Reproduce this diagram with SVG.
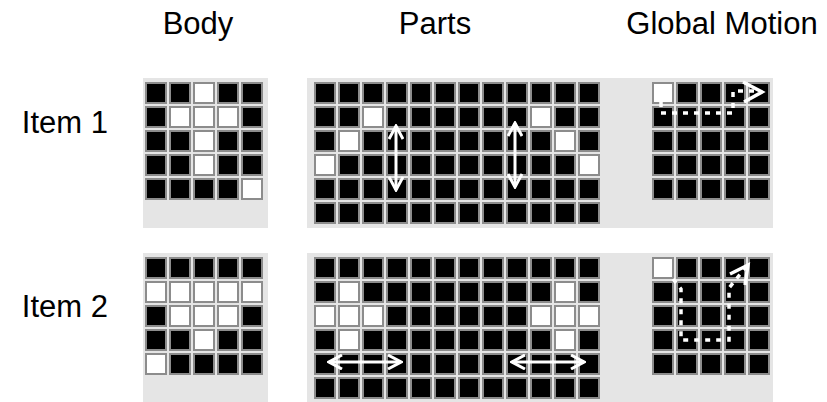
<svg xmlns="http://www.w3.org/2000/svg" width="827" height="402" viewBox="0 0 827 402">
<style>
.lbl{font-family:"Liberation Sans",Arial,sans-serif;font-size:31px;fill:#000}
.panel{fill:#e5e5e5}
.w{fill:#fff;stroke:#8c8c8c;stroke-width:2}
.arr{fill:none;stroke:#fff;stroke-width:3}
.dot{fill:none;stroke:#fff;stroke-width:3.5;stroke-dasharray:5 6}
.head{fill:none;stroke:#fff;stroke-width:3.5;stroke-linejoin:miter}
</style>
<defs>
<pattern id="cells" width="24" height="24" patternUnits="userSpaceOnUse">
<rect x="1" y="1" width="20" height="20" fill="#000" stroke="#8c8c8c" stroke-width="2"/>
</pattern>
<marker id="chev" viewBox="-1 -1 16 16" refX="13" refY="7" markerWidth="16" markerHeight="16" markerUnits="userSpaceOnUse" orient="auto-start-reverse">
<path d="M0,0 L13,7 L0,14" fill="none" stroke="#fff" stroke-width="3"/>
</marker>
</defs>
<rect width="827" height="402" fill="#fff"/>
<g id="headers">
<text class="lbl" x="198" y="34" text-anchor="middle">Body</text>
<text class="lbl" x="435" y="34" text-anchor="middle">Parts</text>
<text class="lbl" x="722" y="34" text-anchor="middle">Global Motion</text>
<text class="lbl" x="108" y="133" text-anchor="end">Item 1</text>
<text class="lbl" x="108" y="317" text-anchor="end">Item 2</text>
</g>
<g id="panels">
<rect class="panel" x="143" y="78" width="125" height="150"/>
<rect class="panel" x="307" y="78" width="300" height="150"/>
<rect class="panel" x="607" y="78" width="166" height="150"/>
<rect class="panel" x="143" y="253" width="125" height="149"/>
<rect class="panel" x="307" y="253" width="300" height="149"/>
<rect class="panel" x="607" y="253" width="166" height="149"/>
</g>
<g id="body1" transform="translate(145,82)">
<rect width="120" height="120" fill="url(#cells)"/>
<rect class="w" x="49" y="1" width="20" height="20"/>
<rect class="w" x="25" y="25" width="20" height="20"/>
<rect class="w" x="49" y="25" width="20" height="20"/>
<rect class="w" x="73" y="25" width="20" height="20"/>
<rect class="w" x="49" y="49" width="20" height="20"/>
<rect class="w" x="49" y="73" width="20" height="20"/>
<rect class="w" x="97" y="97" width="20" height="20"/>
</g>
<g id="parts1" transform="translate(314,82)">
<rect width="288" height="144" fill="url(#cells)"/>
<rect class="w" x="49" y="25" width="20" height="20"/>
<rect class="w" x="217" y="25" width="20" height="20"/>
<rect class="w" x="25" y="49" width="20" height="20"/>
<rect class="w" x="241" y="49" width="20" height="20"/>
<rect class="w" x="1" y="73" width="20" height="20"/>
<rect class="w" x="265" y="73" width="20" height="20"/>
</g>
<g id="global1" transform="translate(652,82)">
<rect width="120" height="120" fill="url(#cells)"/>
<rect class="w" x="1" y="1" width="20" height="20"/>
</g>
<g id="body2" transform="translate(145,257)">
<rect width="120" height="120" fill="url(#cells)"/>
<rect class="w" x="1" y="25" width="20" height="20"/>
<rect class="w" x="25" y="25" width="20" height="20"/>
<rect class="w" x="49" y="25" width="20" height="20"/>
<rect class="w" x="73" y="25" width="20" height="20"/>
<rect class="w" x="97" y="25" width="20" height="20"/>
<rect class="w" x="25" y="49" width="20" height="20"/>
<rect class="w" x="49" y="49" width="20" height="20"/>
<rect class="w" x="73" y="49" width="20" height="20"/>
<rect class="w" x="49" y="73" width="20" height="20"/>
<rect class="w" x="1" y="97" width="20" height="20"/>
</g>
<g id="parts2" transform="translate(314,257)">
<rect width="288" height="144" fill="url(#cells)"/>
<rect class="w" x="25" y="25" width="20" height="20"/>
<rect class="w" x="241" y="25" width="20" height="20"/>
<rect class="w" x="1" y="49" width="20" height="20"/>
<rect class="w" x="25" y="49" width="20" height="20"/>
<rect class="w" x="49" y="49" width="20" height="20"/>
<rect class="w" x="217" y="49" width="20" height="20"/>
<rect class="w" x="241" y="49" width="20" height="20"/>
<rect class="w" x="265" y="49" width="20" height="20"/>
<rect class="w" x="25" y="73" width="20" height="20"/>
<rect class="w" x="241" y="73" width="20" height="20"/>
</g>
<g id="global2" transform="translate(652,257)">
<rect width="120" height="120" fill="url(#cells)"/>
<rect class="w" x="1" y="1" width="20" height="20"/>
</g>
<g id="connectors">
<line class="arr" x1="396" y1="126" x2="396" y2="190" marker-start="url(#chev)" marker-end="url(#chev)"/>
<line class="arr" x1="515" y1="123" x2="515" y2="187" marker-start="url(#chev)" marker-end="url(#chev)"/>
<line class="arr" x1="329" y1="362" x2="401" y2="362" marker-start="url(#chev)" marker-end="url(#chev)"/>
<line class="arr" x1="512" y1="362" x2="584" y2="362" marker-start="url(#chev)" marker-end="url(#chev)"/>
<path class="dot" d="M661,102 L661,113 L733,113 L733,91 L760,91"/>
<polyline class="head" points="743,82 762,92 744,102"/>
<path class="dot" d="M673,279 L681,289 L681,340 L729,340 L729,288 L746,267"/>
<polyline class="head" points="730,274 748,265 745,285"/>
</g>
</svg>
